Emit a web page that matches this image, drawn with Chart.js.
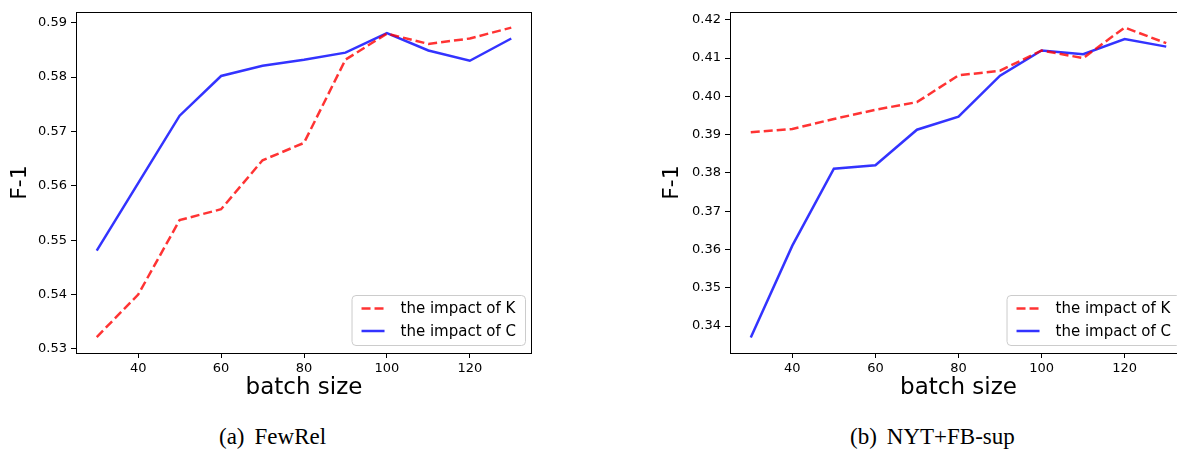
<!DOCTYPE html>
<html>
<head>
<meta charset="utf-8">
<script src="https://cdn.jsdelivr.net/npm/chart.js@4/dist/chart.umd.min.js"></script>
<style>
  html, body { margin: 0; padding: 0; background: #fff; }
  body { width: 1177px; height: 450px; overflow: hidden; position: relative; }
  canvas { position: absolute; top: 0; }
  #left { left: 0; }
  #right { left: 640px; }
  .caption {
    position: absolute; top: 425px; line-height: 24px; white-space: nowrap;
    font-family: "Liberation Serif", "Times New Roman", serif; font-size: 23px; color: #000;
  }
  .caption span { margin-left: 10px; }
</style>
</head>
<body>
<canvas id="left" width="560" height="402"></canvas>
<canvas id="right" width="580" height="402"></canvas>
<div class="caption" style="left:219px">(a)<span>FewRel</span></div>
<div class="caption" style="left:850px">(b)<span>NYT+FB-sup</span></div>
<script>
// batch sizes on the x axis
const batchSizes = [30, 40, 50, 60, 70, 80, 90, 100, 110, 120, 130];

// FewRel F-1
const fewrelK = [0.5322, 0.5400, 0.5537, 0.5557, 0.5647, 0.5679, 0.5832, 0.5880, 0.5861, 0.5871, 0.5891];
const fewrelC = [0.5481, 0.5605, 0.5729, 0.5802, 0.5821, 0.5832, 0.5845, 0.5881, 0.5849, 0.5830, 0.5871];

// NYT+FB-sup F-1
const nytK = [0.3906, 0.3915, 0.3941, 0.3965, 0.3985, 0.4055, 0.4067, 0.4120, 0.4100, 0.4180, 0.4139];
const nytC = [0.3370, 0.3610, 0.3811, 0.3820, 0.3913, 0.3947, 0.4054, 0.4120, 0.4110, 0.4150, 0.4130];

const seriesLabels = ['the impact of K', 'the impact of C'];
const xTitle = 'batch size';
const yTitle = 'F-1';

Chart.defaults.font.family = '"DejaVu Sans", sans-serif';
Chart.defaults.color = '#000';

const RED = 'rgba(255, 0, 0, 0.8)';
const BLUE = 'rgba(0, 0, 255, 0.8)';

const toPoints = (ys) => ys.map((y, i) => ({ x: batchSizes[i], y: y }));

// black box round the plot area (matplotlib spines)
const frame = {
  id: 'frame',
  afterDatasetsDraw(chart) {
    const { ctx, chartArea: a } = chart;
    ctx.save();
    ctx.strokeStyle = '#000';
    ctx.lineWidth = 1;
    ctx.strokeRect(Math.round(a.left) + 0.5, Math.round(a.top) + 0.5,
      Math.round(a.right - a.left) - 1, Math.round(a.bottom - a.top));
    ctx.restore();
  }
};

// legend in the lower right corner, inside the axes
const cornerLegend = {
  id: 'cornerLegend',
  afterDraw(chart) {
    const { ctx, chartArea: a } = chart;
    const sets = chart.data.datasets;
    ctx.save();
    ctx.font = '15px "DejaVu Sans"';
    const textW = Math.max(...sets.map(d => ctx.measureText(d.label).width));
    const w = textW + 58, h = 50;
    const x = a.right - 7 - w, y = a.bottom - 8 - h;
    ctx.beginPath();
    ctx.roundRect(x + 0.5, y + 0.5, w, h, 4);
    ctx.fillStyle = 'rgba(255,255,255,0.8)';
    ctx.fill();
    ctx.strokeStyle = '#cccccc';
    ctx.lineWidth = 1;
    ctx.stroke();
    sets.forEach((d, i) => {
      const cy = y + 13.5 + i * 22.5;
      ctx.beginPath();
      ctx.setLineDash(d.borderDash || []);
      ctx.strokeStyle = d.borderColor;
      ctx.lineWidth = d.borderWidth;
      ctx.moveTo(x + 10, cy);
      ctx.lineTo(x + 33, cy);
      ctx.stroke();
      ctx.setLineDash([]);
      ctx.fillStyle = '#000';
      ctx.textBaseline = 'middle';
      ctx.fillText(d.label, x + 49, cy + 1);
    });
    ctx.restore();
  }
};

function makeChart(id, kVals, cVals, yMin, yMax, yAxisWidth, titlePad, rightPad) {
  return new Chart(document.getElementById(id), {
    type: 'line',
    data: {
      datasets: [
        {
          label: seriesLabels[0],
          data: toPoints(kVals),
          borderColor: RED,
          borderWidth: 2.5,
          borderDash: [9, 4],
          pointRadius: 0,
          tension: 0,
          fill: false
        },
        {
          label: seriesLabels[1],
          data: toPoints(cVals),
          borderColor: BLUE,
          borderWidth: 2.5,
          pointRadius: 0,
          tension: 0,
          fill: false
        }
      ]
    },
    options: {
      responsive: false,
      animation: false,
      layout: { padding: { top: 12, right: rightPad, left: 0, bottom: 0 } },
      plugins: { legend: { display: false }, tooltip: { enabled: false } },
      scales: {
        x: {
          type: 'linear',
          min: 25,
          max: 135,
          border: { display: false },
          grid: { drawOnChartArea: false, drawTicks: true, tickLength: 5, tickColor: '#000' },
          ticks: { stepSize: 20, includeBounds: false, padding: 3, font: { size: 13 }, maxRotation: 0 },
          title: { display: true, text: xTitle, font: { size: 23 }, padding: 0 },
          afterFit(scale) { scale.height = 49; }
        },
        y: {
          min: yMin,
          max: yMax,
          border: { display: false },
          grid: { drawOnChartArea: false, drawTicks: true, tickLength: 5, tickColor: '#000' },
          ticks: {
            stepSize: 0.01, includeBounds: false, padding: 4, font: { size: 13 },
            callback: (v) => v.toFixed(2)
          },
          title: { display: true, text: yTitle, font: { size: 22 }, padding: { top: titlePad, bottom: 0 } },
          afterFit(scale) { scale.width = yAxisWidth; }
        }
      }
    },
    plugins: [frame, cornerLegend]
  });
}

makeChart('left', fewrelK, fewrelC, 0.52926, 0.59197, 76, 7, 28);
makeChart('right', nytK, nytC, 0.33295, 0.42205, 90, 19, 33);
</script>
</body>
</html>
